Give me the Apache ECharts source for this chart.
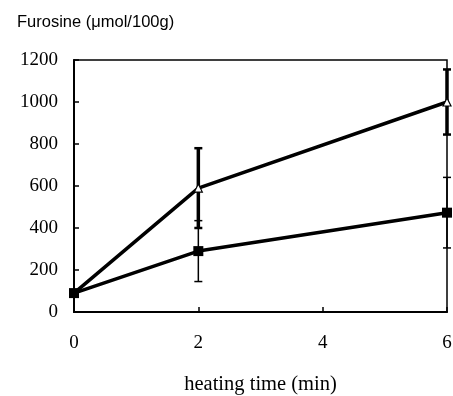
<!DOCTYPE html>
<html>
<head>
<meta charset="utf-8">
<script src="https://cdn.jsdelivr.net/npm/echarts@6/dist/echarts.min.js"></script>
<style>
  html, body { margin: 0; padding: 0; background: #fff; }
  #chart { width: 453px; height: 396px; }
</style>
</head>
<body>
<div id="chart"></div>
<script>
// Heating time (min) and furosine content (µmol/100g)
const times = [0, 2, 6];
const triangleMean = [90, 590, 1000];
const triangleErr = [0, 190, 155];
const squareMean = [90, 290, 473];
const squareErr = [0, 145, 168];
const xTicks = [0, 2, 4, 6];
const yTicks = [0, 200, 400, 600, 800, 1000, 1200];

const pairs = (xs, ys) => xs.map((x, i) => [x, ys[i]]);
const errRows = (xs, m, e) => xs.map((x, i) => [x, m[i] - e[i], m[i] + e[i]]).filter((r, i) => e[i] > 0);

function errorBar(width, capWidth) {
  return function (params, api) {
    const x = api.value(0);
    const lo = api.coord([x, api.value(1)]);
    const hi = api.coord([x, api.value(2)]);
    const half = 4;
    const style = { stroke: '#000', lineWidth: width };
    const capStyle = { stroke: '#000', lineWidth: capWidth };
    return {
      type: 'group',
      children: [
        { type: 'line', shape: { x1: lo[0], y1: lo[1], x2: hi[0], y2: hi[1] }, style },
        { type: 'line', shape: { x1: lo[0] - half, y1: lo[1], x2: lo[0] + half, y2: lo[1] }, style: capStyle },
        { type: 'line', shape: { x1: hi[0] - half, y1: hi[1], x2: hi[0] + half, y2: hi[1] }, style: capStyle }
      ]
    };
  };
}

const chart = echarts.init(document.getElementById('chart'), null, { renderer: 'canvas' });
chart.setOption({
  animation: false,
  backgroundColor: '#fff',
  grid: {
    left: 74, right: 6, top: 60, bottom: 84,
    outerBoundsMode: 'none', containLabel: false,
    show: true, borderColor: '#000', borderWidth: 1.5, backgroundColor: 'transparent'
  },
  title: {
    text: 'Furosine (\u03bcmol/100g)',
    left: 12, top: 9,
    textStyle: { fontFamily: 'Liberation Sans', fontSize: 16.5, fontWeight: 'normal', color: '#000' }
  },
  xAxis: {
    type: 'value', min: 0, max: 6, interval: 2,
    name: 'heating time (min)', nameLocation: 'middle', nameGap: 62,
    nameTextStyle: { fontFamily: 'Liberation Serif', fontSize: 20.5, color: '#000' },
    axisLine: { show: true, lineStyle: { color: '#000', width: 2 } },
    axisTick: { show: true, inside: true, length: 5, lineStyle: { color: '#000', width: 1.5 } },
    axisLabel: { fontFamily: 'Liberation Serif', fontSize: 19, color: '#000', margin: 22,
      formatter: v => xTicks.includes(v) ? String(v) : '' },
    splitLine: { show: false }
  },
  yAxis: {
    type: 'value', min: 0, max: 1200, interval: 200,
    axisLine: { show: true, lineStyle: { color: '#000', width: 2 } },
    axisTick: { show: true, inside: true, length: 5, lineStyle: { color: '#000', width: 1.5 } },
    axisLabel: { fontFamily: 'Liberation Serif', fontSize: 19, color: '#000', margin: 16,
      formatter: v => yTicks.includes(v) ? String(v) : '' },
    splitLine: { show: false }
  },
  series: [
    {
      type: 'custom', renderItem: errorBar(3.5, 2.5), data: errRows(times, triangleMean, triangleErr),
      encode: { x: 0, y: [1, 2] }, z: 1, silent: true
    },
    {
      type: 'custom', renderItem: errorBar(1.5, 1.5), data: errRows(times, squareMean, squareErr),
      encode: { x: 0, y: [1, 2] }, z: 1, silent: true
    },
    {
      type: 'line', data: pairs(times, triangleMean), z: 3,
      symbol: 'triangle', symbolSize: 8,
      lineStyle: { color: '#000', width: 3.5 },
      itemStyle: { color: '#fff', borderColor: '#000', borderWidth: 1.2 }
    },
    {
      type: 'line', data: pairs(times, squareMean), z: 4,
      symbol: 'rect', symbolSize: 10,
      lineStyle: { color: '#000', width: 3.5 },
      itemStyle: { color: '#000', borderColor: '#000', borderWidth: 0 }
    }
  ]
});
</script>
</body>
</html>
